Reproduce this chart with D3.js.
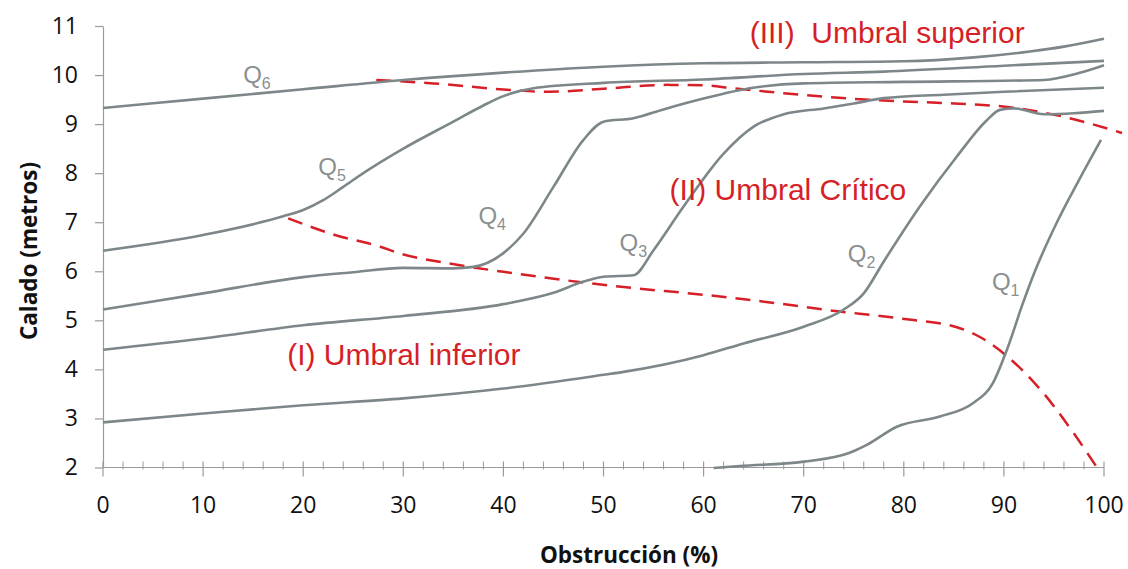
<!DOCTYPE html>
<html>
<head>
<meta charset="utf-8">
<script src="https://cdn.jsdelivr.net/npm/d3@7"></script>
<style>
  body { margin: 0; background: #fff; }
</style>
</head>
<body>
<div class="d3Graph"></div>
<script>
// curves: [obstruccion %, calado m]
var q1 = [[61, 1.99], [63.6, 2.03], [70, 2.12], [74.6, 2.3], [76.3, 2.46], [79.3, 2.83], [83.6, 3.04],
          [86.9, 3.31], [88.9, 3.72], [90.3, 4.4], [91.9, 5.35], [93, 5.95], [95.3, 7.0], [97.5, 7.86], [99.7, 8.68]];
var q2 = [[0, 2.92], [10, 3.1], [20, 3.27], [30, 3.41], [40, 3.61], [50, 3.89], [52, 3.95], [60, 4.29],
          [64, 4.53], [70, 4.87], [74, 5.22], [76, 5.55], [78, 6.2], [81.6, 7.32], [85.3, 8.34], [88.3, 9.08],
          [89.6, 9.29], [91, 9.32], [94, 9.2], [97, 9.22], [100, 9.27]];
var q3 = [[0, 4.4], [10, 4.63], [20, 4.9], [30, 5.09], [40, 5.33], [45, 5.56], [48, 5.79], [50, 5.89],
          [53, 5.92], [55, 6.43], [58, 7.32], [62, 8.4], [65, 8.95], [68, 9.2], [72, 9.32], [75, 9.42],
          [78, 9.53], [84, 9.6], [90, 9.66], [100, 9.74]];
var q4 = [[0, 5.22], [10, 5.55], [20, 5.88], [25, 5.98], [30, 6.07], [35, 6.06], [37, 6.09], [40, 6.37],
          [42, 6.77], [45, 7.72], [48, 8.68], [50, 9.05], [53, 9.12], [56, 9.3], [60, 9.52], [64.6, 9.73],
          [70, 9.83], [80, 9.86], [94, 9.9], [97.5, 10.04], [100, 10.2]];
var q5 = [[0, 6.42], [10, 6.74], [18, 7.12], [20, 7.25], [22, 7.45], [24, 7.72], [26, 8.0], [30, 8.5],
          [35, 9.05], [38, 9.38], [40, 9.57], [43, 9.73], [50, 9.84], [60, 9.91], [70, 10.02], [78, 10.07],
          [90, 10.19], [100, 10.29]];
var q6 = [[0, 9.33], [10, 9.52], [20, 9.71], [30, 9.9], [40, 10.05], [50, 10.17], [60, 10.24],
          [70, 10.26], [80, 10.28], [87, 10.36], [92.6, 10.48], [96, 10.58], [100, 10.74]];

// red threshold lines
var umbralSuperior = [[27.3, 9.9], [33, 9.83], [41, 9.69], [44.6, 9.66], [50, 9.72], [56.3, 9.8], [60, 9.79],
                      [63, 9.73], [68, 9.63], [77, 9.49], [85, 9.42], [90.3, 9.35], [95.3, 9.18], [101.8, 8.82]];
var umbralInferior = [[18.5, 7.08], [23, 6.75], [27.7, 6.5], [29.7, 6.36], [34.3, 6.17], [41, 5.96], [51, 5.7],
                      [61, 5.5], [67.6, 5.34], [72, 5.22], [80.3, 5.02], [85.3, 4.86], [87.6, 4.66], [90.3, 4.27],
                      [93.6, 3.6], [96.9, 2.72], [99.3, 2.0]];

var curveNames = ["1", "2", "3", "4", "5", "6"];
// where each Q label sits (data coords, left edge / baseline)
var curveLabelPos = [[88.8, 5.62], [74.4, 6.19], [51.6, 6.41], [37.5, 6.96], [21.5, 7.96], [14, 9.84]];

var zoneLabels = ["(III)  Umbral superior", "(II) Umbral Crítico", "(I) Umbral inferior"];
var zoneLabelPos = [[64.6, 10.65], [56.6, 7.45], [18.4, 4.09]];

var xTicks = [0, 10, 20, 30, 40, 50, 60, 70, 80, 90, 100];
var xMinorTicks = d3.range(0, 101, 2);
var yTicks = [2, 3, 4, 5, 6, 7, 8, 9, 10, 11];

var width = 1128, height = 569;
var lineColor = "#7d8789", labelGray = "#8a8f90", red = "#d61f26", axisColor = "#9a9a9a";
var tickFont = "'Open Sans', 'DejaVu Sans', sans-serif";

var svg = d3.select(".d3Graph")
    .append("svg")
    .attr("width", width)
    .attr("height", height);

var x = d3.scaleLinear().domain([0, 100]).range([103, 1104]);
var y = d3.scaleLinear().domain([2, 11]).range([467.5, 26]);

// y axis
var yAxis = svg.append("g")
    .attr("transform", "translate(" + x(0) + ",0)")
    .call(d3.axisLeft(y).tickValues(yTicks).tickSize(8).tickSizeOuter(0).tickFormat(d3.format("d")));
yAxis.select(".domain").attr("stroke", axisColor).attr("stroke-width", 1.2);
yAxis.selectAll(".tick line").attr("stroke", axisColor).attr("stroke-width", 1.2);
yAxis.selectAll(".tick text")
    .attr("x", -25)
    .attr("font-family", tickFont)
    .attr("font-size", 23)
    .attr("fill", "#111");

// x axis: major ticks cross the line, minor ticks every 2
var xAxis = svg.append("g").attr("transform", "translate(0," + y(2) + ")");
xAxis.append("line")
    .attr("x1", x(0)).attr("x2", x(100))
    .attr("stroke", axisColor).attr("stroke-width", 1.2);
xAxis.selectAll(".minor")
    .data(xMinorTicks.filter(function(d) { return d % 10 !== 0; }))
    .enter().append("line")
    .attr("class", "minor")
    .attr("x1", function(d) { return x(d); })
    .attr("x2", function(d) { return x(d); })
    .attr("y1", -6).attr("y2", 2)
    .attr("stroke", axisColor).attr("stroke-width", 1);
xAxis.selectAll(".major")
    .data(xTicks)
    .enter().append("line")
    .attr("class", "major")
    .attr("x1", function(d) { return x(d); })
    .attr("x2", function(d) { return x(d); })
    .attr("y1", -6).attr("y2", 9)
    .attr("stroke", axisColor).attr("stroke-width", 1.2);
xAxis.selectAll(".lbl")
    .data(xTicks)
    .enter().append("text")
    .attr("class", "lbl")
    .attr("x", function(d) { return x(d); })
    .attr("y", 45)
    .attr("text-anchor", "middle")
    .attr("font-family", tickFont)
    .attr("font-size", 23)
    .attr("fill", "#111")
    .text(function(d) { return d; });

// axis titles
svg.append("text")
    .attr("transform", "translate(37,251) rotate(-90)")
    .attr("text-anchor", "middle")
    .attr("font-family", tickFont)
    .attr("font-weight", "bold")
    .attr("font-size", 22.5)
    .attr("fill", "#111")
    .text("Calado (metros)");

svg.append("text")
    .attr("x", 629)
    .attr("y", 563)
    .attr("text-anchor", "middle")
    .attr("font-family", tickFont)
    .attr("font-weight", "bold")
    .attr("font-size", 22.5)
    .attr("fill", "#111")
    .text("Obstrucción (%)");

var line = d3.line()
    .x(function(d) { return x(d[0]); })
    .y(function(d) { return y(d[1]); })
    .curve(d3.curveMonotoneX);

// red dashed thresholds
svg.selectAll(".umbral")
    .data([umbralSuperior, umbralInferior])
    .enter().append("path")
    .attr("class", "umbral")
    .attr("d", line)
    .attr("fill", "none")
    .attr("stroke", red)
    .attr("stroke-width", 2.5)
    .attr("stroke-dasharray", "15,9");

// discharge curves
svg.selectAll(".q")
    .data([q1, q2, q3, q4, q5, q6])
    .enter().append("path")
    .attr("class", "q")
    .attr("d", line)
    .attr("fill", "none")
    .attr("stroke", lineColor)
    .attr("stroke-width", 2.6);

// Q labels with subscript
var qLab = svg.selectAll(".qlab")
    .data(curveNames)
    .enter().append("text")
    .attr("class", "qlab")
    .attr("x", function(d, i) { return x(curveLabelPos[i][0]); })
    .attr("y", function(d, i) { return y(curveLabelPos[i][1]); })
    .attr("font-family", "'Liberation Sans', Arial, sans-serif")
    .attr("font-size", 24)
    .attr("fill", labelGray);
qLab.append("tspan").text("Q");
qLab.append("tspan")
    .attr("font-size", 16)
    .attr("dy", 6)
    .text(function(d) { return d; });

// zone labels
svg.selectAll(".zone")
    .data(zoneLabels)
    .enter().append("text")
    .attr("class", "zone")
    .attr("x", function(d, i) { return x(zoneLabelPos[i][0]); })
    .attr("y", function(d, i) { return y(zoneLabelPos[i][1]); })
    .attr("font-family", "'Liberation Sans', Arial, sans-serif")
    .attr("font-size", 30)
    .attr("fill", red)
    .attr("xml:space", "preserve")
    .style("white-space", "pre")
    .text(function(d) { return d; });
</script>
</body>
</html>
